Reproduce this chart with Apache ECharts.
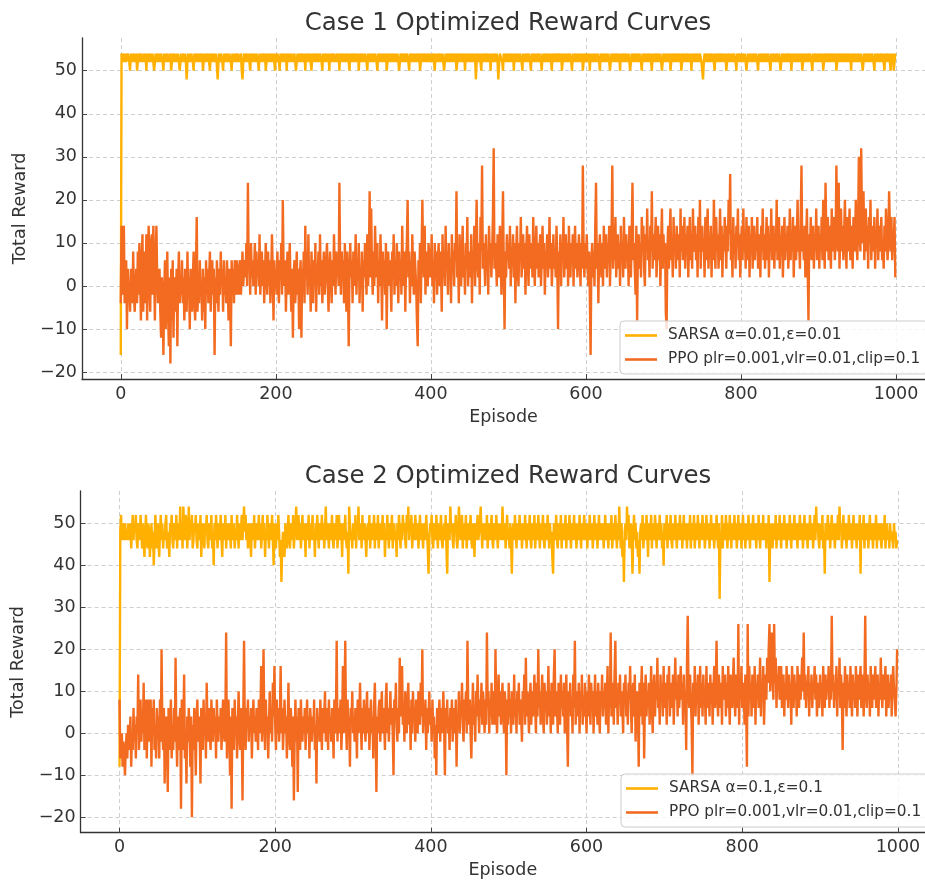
<!DOCTYPE html>
<html>
<head>
<meta charset="utf-8">
<script src="https://cdn.jsdelivr.net/npm/echarts@6/dist/echarts.min.js"></script>
<style>html,body{margin:0;padding:0;background:#fff}#chart{width:925px;height:881px}</style>
</head>
<body>
<div id="chart"></div>
<script>
const titles = ['Case 1 Optimized Reward Curves', 'Case 2 Optimized Reward Curves'];
const sarsaNames = ['SARSA α=0.01,ε=0.01', 'SARSA α=0.1,ε=0.1'];
const ppoName = 'PPO plr=0.001,vlr=0.01,clip=0.1';
const xTicks = [0, 200, 400, 600, 800, 1000];
const yTicks = [-20, -10, 0, 10, 20, 30, 40, 50];

const sarsa1 = [
-16,54,52,54,54,52,54,52,52,54,54,52,50,54,52,54,54,52,54,52,54,50,52,54,54,52,54,54,52,52,54,52,54,50,54,52,54,54,52,54,52,54,54,50,52,54,52,54,54,52,
54,52,54,54,52,50,54,52,54,52,54,54,52,52,54,50,52,54,54,52,54,52,54,52,54,54,50,52,54,52,54,54,52,54,52,48,52,54,52,54,52,54,54,52,50,54,52,54,54,52,
54,52,54,54,52,54,50,52,54,52,54,54,52,54,52,50,54,52,54,54,52,54,52,54,54,48,52,54,52,54,54,52,50,54,52,54,54,52,54,52,54,54,52,50,54,52,54,52,54,54,
52,54,54,52,52,54,50,48,52,54,54,52,54,54,52,54,52,50,54,52,54,54,52,54,52,54,54,52,50,54,52,54,52,54,54,52,54,50,52,54,54,52,54,52,54,54,52,54,52,50,
54,52,54,54,52,50,54,52,54,54,52,54,52,54,50,54,54,52,54,52,54,54,52,52,54,54,50,52,54,52,54,52,54,54,52,54,52,54,50,54,52,54,54,52,54,52,50,54,52,54,
54,52,54,54,52,54,52,54,54,52,50,54,52,54,54,52,54,52,54,50,54,52,54,54,52,54,54,52,52,54,52,54,50,54,52,54,54,52,54,52,54,54,52,54,52,50,54,52,54,54,
52,54,54,52,54,52,54,50,54,52,54,54,52,54,52,54,54,52,50,54,52,54,52,54,54,52,54,52,54,54,52,50,54,52,54,54,52,54,52,54,54,52,54,50,52,54,54,52,54,52,
54,54,52,54,52,54,52,54,54,50,52,54,54,52,54,52,54,54,52,54,54,52,50,54,52,54,54,52,54,52,54,52,54,54,52,54,50,52,54,54,52,54,54,52,54,52,54,54,52,54,
54,52,52,54,54,50,54,52,54,52,54,54,52,54,52,54,54,50,52,54,52,54,54,52,54,52,54,54,52,54,54,52,54,50,52,54,54,52,54,52,54,54,52,54,50,54,52,54,54,52,
54,52,54,54,52,54,52,54,48,52,54,54,52,54,52,50,54,52,54,54,52,54,54,52,54,52,54,50,54,52,54,52,54,54,52,54,52,48,52,54,54,54,52,50,54,52,54,54,52,54,
52,54,54,52,54,52,54,50,54,52,54,54,52,54,52,54,54,52,50,54,52,54,52,54,54,52,54,54,52,50,54,52,54,54,52,54,52,54,54,52,54,54,52,50,54,52,54,54,52,54,
52,54,54,52,54,52,50,54,52,54,54,52,54,54,52,54,54,52,54,50,52,54,54,52,54,52,54,54,52,54,54,52,50,54,52,54,54,52,54,52,54,54,52,54,52,54,50,52,54,54,
52,54,54,52,54,50,54,52,54,52,54,54,52,54,52,54,54,52,50,54,52,54,54,52,54,52,54,54,52,54,54,50,52,54,54,52,54,52,54,54,52,54,52,54,50,54,52,54,54,52,
54,54,52,54,52,54,54,50,52,54,52,54,54,52,54,52,54,54,52,54,54,52,50,54,52,54,54,52,54,52,54,54,52,54,52,50,54,52,54,54,52,54,54,52,54,52,54,54,50,52,
54,54,52,54,52,54,54,52,54,50,52,54,54,52,54,52,54,54,52,54,54,52,54,50,52,54,54,52,54,52,54,54,52,54,52,54,50,54,52,54,54,52,54,54,52,54,52,54,54,52,
50,48,52,54,54,52,54,52,54,54,52,54,54,52,54,52,50,54,52,54,54,52,54,54,52,54,54,52,54,52,54,50,52,54,54,52,54,52,54,54,52,54,54,52,50,54,52,54,54,52,
54,52,54,54,52,54,54,50,52,54,52,54,54,52,54,52,54,54,52,54,54,52,50,54,52,54,54,52,54,52,54,54,52,54,52,54,54,52,50,54,52,54,54,52,54,52,54,54,52,54,
54,50,52,54,54,52,54,52,54,54,52,54,54,52,54,50,54,52,54,52,54,54,52,54,52,54,54,52,54,50,52,54,54,52,54,52,54,54,52,54,54,52,50,54,52,54,54,52,54,52,
54,54,52,54,52,54,50,52,54,54,52,54,54,52,54,52,54,54,52,54,54,52,54,50,52,54,54,52,54,52,54,54,52,54,52,54,54,52,54,54,52,54,50,54,52,54,54,52,54,52,
54,54,52,54,52,54,54,50,52,54,52,54,54,52,54,52,54,54,52,54,54,52,50,54,52,54,54,52,54,52,54,54,52,54,52,50,54,52,54,54,52,54,54,50,54,52,54,50,52,54
];

const ppo1 = [
-4,14,2,-2,14,-4,0,6,-10,4,-2,0,-6,4,2,-4,8,-2,-6,0,4,-4,8,-2,10,2,-8,6,12,-6,8,2,-4,12,-8,6,14,0,-6,10,12,-2,14,4,-8,6,14,2,-4,0,
4,-6,-12,2,-4,-16,-2,6,-10,0,8,-6,-14,2,-18,4,-8,6,-12,2,0,-6,4,-14,2,8,-4,0,-2,6,-4,2,-8,4,0,-6,8,-2,2,-10,4,0,-6,2,8,-4,-8,4,16,-6,
2,-4,6,-2,0,-8,4,-6,2,-10,6,-2,4,-4,2,8,-6,0,6,-2,4,-16,2,-4,6,0,-6,4,-2,8,0,4,-6,6,-2,2,-4,6,0,-8,4,-2,-14,6,0,4,-4,6,2,-2,
6,0,-2,4,6,-2,2,8,0,4,6,2,10,0,24,4,6,-2,10,2,6,0,4,10,-2,8,2,6,0,12,-2,4,8,0,6,-4,2,10,4,-2,8,0,6,-4,2,12,4,-8,6,0,
4,-2,8,0,-4,6,2,10,-2,20,4,0,6,-6,2,8,-2,4,10,0,-6,4,-12,2,6,-4,0,8,-2,4,-10,2,6,-12,4,0,8,-4,14,2,6,-2,12,0,4,-6,8,2,-4,6,
0,10,-6,4,2,8,-2,12,0,6,-4,4,8,-2,2,6,10,0,-6,4,8,2,-4,6,0,12,4,-2,8,2,6,0,24,4,-2,8,2,6,-4,10,2,-6,8,0,-14,4,10,2,6,-4,
8,0,4,12,-2,6,2,10,-4,4,0,8,-6,6,2,10,4,-2,12,0,6,22,2,18,4,-2,8,0,14,6,2,10,-4,6,0,12,4,-8,8,2,6,-2,10,-10,4,8,0,6,2,-6,
8,4,12,-2,6,0,10,4,-4,8,2,6,-2,14,4,0,8,-6,6,10,20,2,8,-4,6,0,12,4,-2,8,4,0,-8,-14,6,2,10,-4,8,20,6,2,14,-2,8,4,0,10,6,2,
4,12,0,6,-4,10,2,8,-2,6,10,0,8,4,-6,12,2,6,0,14,4,8,-2,10,2,6,-4,12,4,8,0,10,6,22,2,8,-4,12,4,0,8,14,2,6,-2,10,4,16,0,8,
6,2,12,-4,8,4,14,0,10,20,6,2,10,-2,16,8,28,4,10,6,0,12,4,8,-2,14,6,10,2,8,16,32,4,10,6,0,12,8,2,14,6,-2,10,22,4,-10,8,2,12,6,
10,4,14,0,8,6,12,2,10,-4,8,14,4,0,10,6,16,2,8,12,4,10,-2,8,14,6,0,12,4,8,10,2,16,6,0,8,14,4,10,2,8,12,0,6,14,4,10,-2,8,6,
12,2,8,16,4,10,0,6,12,4,8,2,14,6,-10,8,4,12,0,10,6,16,2,8,12,4,10,0,14,6,2,10,6,12,0,8,14,4,10,2,8,12,6,0,10,4,28,8,2,10,
4,12,6,0,8,-2,-16,6,10,2,8,0,14,24,4,10,-4,8,12,6,2,10,0,14,8,4,12,2,10,6,14,0,8,12,28,4,10,6,16,2,8,12,4,10,0,14,6,10,2,16,
8,4,12,6,10,0,14,8,2,12,24,6,10,4,-2,14,-8,8,12,4,10,2,16,8,14,4,0,12,8,18,6,10,2,14,8,22,4,12,6,10,16,2,8,14,6,12,0,10,18,4,
12,6,10,-6,-10,8,14,4,12,18,6,10,2,16,8,12,4,14,10,6,12,2,18,8,14,6,10,16,4,12,8,14,2,10,16,6,12,4,18,8,10,14,6,12,2,16,8,20,4,12,
14,8,10,2,16,6,12,18,4,10,8,14,2,12,6,20,10,4,16,8,12,4,10,18,6,14,2,12,8,16,10,4,14,8,20,12,26,6,10,2,16,8,12,4,14,10,18,6,12,2,
10,14,6,18,8,12,4,16,10,6,14,2,12,8,16,4,10,14,6,12,8,16,4,12,10,2,14,8,18,6,12,4,10,16,6,14,2,12,8,18,6,10,14,4,12,8,20,6,10,16,
4,12,8,14,2,10,16,6,12,8,14,4,10,18,6,12,8,16,2,10,14,6,12,20,8,10,4,16,28,8,12,6,14,2,10,18,4,-8,12,8,16,6,10,14,4,12,8,18,6,10,
14,4,12,8,16,6,20,10,4,24,12,8,16,6,14,10,4,18,8,12,16,6,10,28,14,8,24,4,12,18,8,14,6,12,20,10,4,16,8,12,18,6,14,10,4,16,12,8,20,10,
6,14,30,12,8,32,16,10,22,6,12,18,8,14,4,16,10,20,6,12,14,8,16,4,12,10,18,6,14,8,12,16,6,10,4,14,8,18,12,6,10,22,14,8,16,6,12,10,16,2
];

const sarsa2 = [
-8,48,52,46,50,46,48,50,46,48,46,50,48,46,50,44,48,52,46,50,48,52,46,44,50,48,46,52,48,44,50,46,42,48,52,46,44,50,48,42,46,50,44,48,40,46,52,48,44,50,
46,42,48,52,46,50,44,48,46,50,52,44,48,46,42,50,48,52,46,44,50,46,48,52,44,50,46,48,54,46,50,44,54,48,46,52,50,44,48,54,46,50,48,52,44,46,50,48,52,46,
44,50,48,46,52,42,48,50,46,44,50,48,52,46,44,50,48,46,52,44,48,40,50,46,52,48,44,50,46,48,52,46,42,50,48,46,52,44,48,50,46,50,48,44,52,46,48,50,44,48,
46,52,48,44,50,46,48,52,46,50,54,48,52,46,50,44,48,50,46,42,50,48,46,52,44,48,50,46,48,52,46,50,44,48,52,46,50,42,48,46,52,48,44,50,46,48,52,46,40,50,
48,44,50,46,52,48,42,46,36,44,48,46,42,50,46,44,48,52,46,44,50,48,46,52,44,48,50,54,46,48,52,46,50,44,48,52,46,50,48,42,50,46,48,52,44,50,46,48,52,46,
48,42,50,46,52,48,44,50,46,48,52,46,50,44,48,54,46,50,48,44,50,46,48,52,46,44,50,48,46,52,44,48,52,46,50,48,42,50,46,48,52,46,44,48,38,54,50,46,48,44,
50,48,46,52,44,50,48,54,46,48,50,44,52,46,48,50,46,42,48,50,46,52,44,48,50,46,48,52,44,50,48,46,52,44,48,50,46,48,52,46,50,42,48,46,52,48,44,50,46,48,
52,44,48,50,46,48,42,50,46,52,48,44,50,46,52,48,50,46,44,52,48,54,46,50,48,52,44,48,50,46,52,48,46,50,44,48,52,46,50,48,44,50,48,46,52,48,44,38,46,50,
48,52,46,44,50,48,46,52,48,44,50,46,48,52,46,44,48,50,46,52,44,38,50,48,46,54,48,50,46,44,50,48,52,46,44,48,54,50,46,48,52,44,50,48,46,52,44,48,50,46,
48,52,46,44,50,48,42,50,46,48,52,46,48,50,54,48,44,50,46,48,50,46,52,44,48,50,46,48,52,46,44,50,48,46,52,48,44,50,46,48,50,46,54,48,46,50,44,48,52,46,
48,44,50,46,38,48,50,46,52,48,44,50,46,48,52,46,50,44,48,50,46,52,48,44,50,46,48,52,46,44,50,48,46,52,44,48,50,46,52,48,44,50,46,48,52,46,44,50,48,46,
52,48,44,50,46,48,42,38,50,46,48,52,46,44,50,48,46,52,44,48,50,46,48,52,44,50,48,46,52,48,44,50,46,48,52,46,50,44,48,50,46,52,48,44,50,46,48,52,46,50,
48,44,50,46,52,48,46,50,44,48,52,46,48,50,44,48,52,46,50,48,46,50,44,48,52,46,50,48,44,50,48,46,52,44,48,50,46,52,48,44,50,46,54,48,44,50,42,46,36,48,
50,46,54,48,52,44,48,50,46,38,48,52,46,50,44,48,42,46,38,48,50,46,52,44,48,50,46,52,48,42,50,46,48,52,44,50,48,46,52,48,44,50,46,48,52,46,50,44,48,40,
50,46,48,52,44,50,46,48,52,46,44,50,48,46,52,48,44,50,46,48,52,46,50,44,48,52,46,50,48,44,50,46,48,52,44,50,48,46,52,44,48,50,46,52,48,44,50,46,48,52,
46,50,44,48,52,46,48,50,44,48,52,46,50,48,44,50,46,52,48,44,50,32,48,46,52,44,50,48,46,52,48,44,50,46,52,48,44,50,46,48,52,46,50,44,48,52,46,48,50,44,
48,52,46,50,44,48,50,46,52,48,44,50,46,48,52,46,50,48,44,50,46,52,48,44,50,46,48,52,46,50,48,44,50,46,52,36,48,50,46,44,50,48,46,52,44,48,50,46,52,48,
44,50,46,48,52,46,50,44,48,50,46,52,48,44,50,46,48,52,46,50,48,44,50,46,52,48,46,50,44,48,52,46,50,48,44,50,46,52,48,46,50,44,48,52,46,54,48,50,46,44,
50,48,46,52,44,48,38,50,46,48,52,46,50,44,48,52,46,50,48,44,50,46,48,52,46,54,48,50,44,48,52,46,50,48,44,50,46,52,48,46,50,44,48,52,46,50,48,44,50,46,
48,52,38,50,46,48,52,44,50,48,46,50,44,48,52,46,50,48,44,50,46,48,52,44,50,46,48,50,46,44,50,48,46,52,44,48,50,46,48,44,50,46,48,46,44,50,46,48,44,46
];

const ppo2 = [
8,-6,-4,0,-8,-2,-6,-10,-4,0,-6,2,-4,-2,4,-8,0,-4,6,-2,2,-6,4,0,14,-4,2,8,-2,4,0,12,-4,6,8,-6,2,8,-2,4,8,-8,6,0,8,-4,2,-6,6,0,
4,-6,8,-2,20,2,-4,6,-12,0,4,-2,-14,6,-4,0,8,-6,2,-4,6,-2,18,0,-8,4,-4,2,6,-18,8,-4,2,14,-6,0,-12,4,-2,6,0,-8,4,-20,2,-4,6,0,-10,4,
8,-2,4,0,-12,6,2,-4,8,0,4,-6,12,2,-2,6,0,-4,8,2,-2,6,0,4,-6,8,2,-2,4,0,6,-4,2,8,0,-2,4,24,-6,2,8,0,-10,4,-18,6,2,-4,8,0,
4,-6,2,10,0,-4,6,2,-16,4,22,0,-4,6,2,8,-2,4,0,6,-6,2,8,0,4,-2,6,2,-4,8,0,4,16,-2,6,20,2,-4,8,0,4,-6,2,10,0,6,-2,12,4,16,
2,-4,8,0,6,-2,4,16,0,6,-4,2,8,0,4,-6,2,12,0,-4,6,2,-8,4,-16,0,8,-2,4,-14,6,0,-4,8,2,-2,4,0,6,-4,2,8,0,4,-6,6,2,-2,4,0,
8,-4,2,-12,6,0,4,-2,8,2,-4,6,0,4,10,-2,6,2,-4,8,0,4,-2,6,2,-6,8,0,4,22,-2,6,0,4,8,-4,2,16,0,6,22,2,-4,8,0,4,-8,6,2,10,
0,4,-2,6,2,-6,8,0,4,12,2,-4,6,0,8,2,-2,4,10,0,6,-4,2,8,0,4,-6,6,12,2,-14,4,0,6,8,-2,4,10,0,6,2,-4,8,12,0,6,-2,4,10,2,
6,0,-10,8,4,12,2,-2,6,0,18,4,8,16,2,6,-2,10,4,0,8,12,2,6,-4,8,0,10,4,6,-2,8,4,0,10,6,2,12,4,20,0,6,2,8,-4,6,0,4,10,2,
6,-2,8,0,4,-6,2,-10,6,0,4,8,-2,6,0,4,10,2,-10,6,2,8,0,4,-4,6,2,8,-2,4,6,0,8,-8,4,2,10,0,6,4,12,2,-2,8,4,10,0,22,6,2,
8,0,-6,4,12,2,6,-2,10,4,14,6,0,8,4,12,2,10,6,0,8,2,24,6,10,0,8,4,12,2,6,10,2,20,6,0,8,14,4,10,2,8,12,4,0,10,6,-10,8,2,
12,4,8,0,10,6,2,14,4,8,0,10,6,12,2,8,4,-2,10,6,14,2,18,4,10,6,0,8,12,2,10,4,8,14,6,0,12,4,20,6,10,2,8,14,4,0,12,6,10,2,
8,16,4,10,0,12,6,2,14,20,4,10,6,0,12,8,2,14,6,10,4,12,0,8,14,2,-8,10,6,12,4,8,0,14,6,22,2,10,8,4,12,0,10,6,14,2,8,4,12,6,
0,10,4,14,8,2,12,6,10,0,8,14,4,10,2,12,6,0,10,8,14,4,10,6,12,2,8,16,0,10,6,24,4,12,8,2,14,22,6,10,2,12,8,14,4,10,6,0,12,8,
14,4,10,2,12,8,16,6,0,10,12,4,14,-2,8,10,6,-8,12,4,10,16,2,12,-6,8,14,4,10,6,12,2,8,16,6,0,10,14,4,12,8,18,6,10,2,14,8,12,4,16,
6,12,10,2,14,8,16,4,10,12,6,14,2,10,18,8,12,4,14,6,10,16,8,12,2,14,6,10,-4,16,28,10,6,14,8,2,-10,12,6,16,4,12,8,14,2,10,16,6,12,4,
14,8,10,2,16,6,12,10,4,14,8,12,2,10,16,6,12,22,8,4,14,10,6,12,2,16,8,10,14,4,12,6,16,8,2,14,10,6,12,18,8,4,14,10,6,26,2,12,8,16,
6,12,10,2,14,8,-8,26,4,16,8,12,4,14,10,6,16,2,12,8,14,6,10,18,4,12,8,16,2,10,14,8,18,12,20,26,10,16,24,14,8,26,12,18,6,14,10,16,8,12,
16,6,10,14,4,12,8,16,10,6,14,8,12,2,16,10,6,14,8,12,4,16,10,6,14,8,12,18,10,24,8,14,6,12,10,16,4,12,8,14,6,12,10,16,8,14,4,10,12,6,
14,8,12,4,16,10,6,14,8,12,10,16,6,12,8,28,10,14,6,12,8,16,4,12,10,18,6,14,8,-4,12,6,16,10,4,14,8,12,6,16,10,4,14,8,12,6,16,10,4,14,
8,12,16,6,10,14,4,12,28,10,6,14,8,12,4,16,10,6,14,8,12,16,6,10,14,4,12,8,18,10,6,14,8,12,16,4,10,14,6,12,8,14,4,12,16,10,8,4,10,20
];

const FONT = 'DejaVu Sans';
const TXT = '#333333';
const SARSA_COLOR = '#FFB000';
const PPO_COLOR = '#F26B21';

const grids = [
  { left: 82, top: 38, right: 0, height: 341 },
  { left: 80.6, top: 491, right: 0, height: 341.7 }
];
const xRanges = [[-50, 1037.3], [-50, 1034.8]];
const yRanges = [[-21.6, 57.6], [-23.7, 57.7]];

function fmt(v) { return v < 0 ? '\u2212' + Math.abs(v) : String(v); }

const xAxes = grids.map((g, i) => ({
  type: 'value', gridIndex: i, min: xRanges[i][0], max: xRanges[i][1],
  name: 'Episode', nameLocation: 'middle', nameGap: 29,
  nameTextStyle: { fontSize: 17.5, color: TXT, fontFamily: FONT },
  axisLine: { show: true, onZero: false, lineStyle: { color: '#333', width: 1.3 } },
  axisTick: { show: true, inside: true, length: 5, lineStyle: { color: '#444' }, customValues: xTicks },
  axisLabel: { show: true, margin: 6, fontSize: 17.5, color: TXT, fontFamily: FONT, customValues: xTicks, formatter: fmt },
  splitLine: { show: true, lineStyle: { color: '#cfcfcf', type: [4, 3], width: 1 } }
}));
const yAxes = grids.map((g, i) => ({
  type: 'value', gridIndex: i, min: yRanges[i][0], max: yRanges[i][1],
  name: 'Total Reward', nameLocation: 'middle', nameGap: 50, nameRotate: 90,
  nameTextStyle: { fontSize: 17.5, color: TXT, fontFamily: FONT },
  axisLine: { show: true, onZero: false, lineStyle: { color: '#333', width: 1.3 } },
  axisTick: { show: true, inside: true, length: 5, lineStyle: { color: '#444' }, customValues: yTicks },
  axisLabel: { show: true, margin: 5, fontSize: 17.5, color: TXT, fontFamily: FONT, customValues: yTicks, formatter: fmt },
  splitLine: { show: true, lineStyle: { color: '#cfcfcf', type: [4, 3], width: 1 } }
}));

function toPts(arr) { return arr.map((v, i) => [i, v]); }
const sarsaData = [sarsa1, sarsa2];
const ppoData = [ppo1, ppo2];

const series = [];
for (let i = 0; i < 2; i++) {
  series.push({ name: sarsaNames[i], type: 'line', xAxisIndex: i, yAxisIndex: i, data: toPts(sarsaData[i]),
    showSymbol: false, symbol: 'none', lineStyle: { color: SARSA_COLOR, width: 2.4 }, itemStyle: { color: SARSA_COLOR }, z: 2 });
  series.push({ name: ppoName, type: 'line', xAxisIndex: i, yAxisIndex: i, data: toPts(ppoData[i]),
    showSymbol: false, symbol: 'none', lineStyle: { color: PPO_COLOR, width: 2.4 }, itemStyle: { color: PPO_COLOR }, z: 3 });
}

const legendTops = [321, 774];
const legendLefts = [620, 621];
const legends = [0, 1].map(i => ({
  data: [sarsaNames[i], ppoName], orient: 'vertical', left: legendLefts[i], top: legendTops[i],
  icon: 'rect', itemWidth: 32, itemHeight: 2.6, itemGap: 9, padding: [7, 8, 7, 5],
  backgroundColor: 'rgba(255,255,255,0.8)', borderColor: '#cccccc', borderWidth: 1, borderRadius: 4,
  textStyle: { fontSize: 15.3, color: TXT, fontFamily: FONT, padding: [0, 0, 0, 6] }, selectedMode: false
}));

const titleTops = [7, 460];
const titleCfg = titles.map((t, i) => ({
  text: t, left: 503, top: titleTops[i], textAlign: 'center',
  textStyle: { fontSize: 24.4, fontWeight: 'normal', color: TXT, fontFamily: FONT }
}));

const chart = echarts.init(document.getElementById('chart'), null, { renderer: 'canvas' });
chart.setOption({
  animation: false,
  backgroundColor: '#ffffff',
  textStyle: { fontFamily: FONT },
  title: titleCfg,
  legend: legends,
  grid: grids,
  xAxis: xAxes,
  yAxis: yAxes,
  series: series
});
</script>
</body>
</html>
